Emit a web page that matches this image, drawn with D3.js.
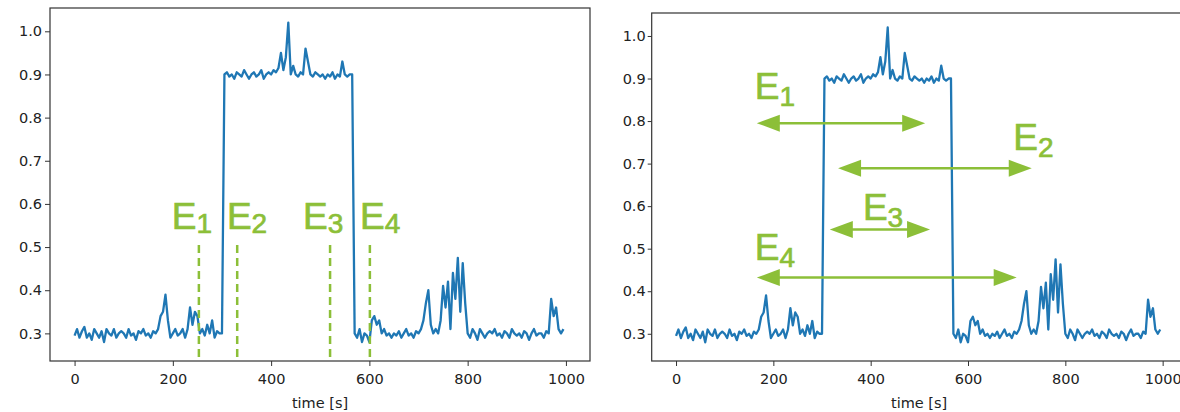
<!DOCTYPE html>
<html>
<head>
<meta charset="utf-8">
<script src="https://d3js.org/d3.v7.min.js"></script>
<style>
  body { margin: 0; background: #fff; }
  .tick text { font-family: "DejaVu Sans", sans-serif; font-size: 14.5px; fill: #222; }
  .axis-title { font-family: "DejaVu Sans", sans-serif; font-size: 14.5px; fill: #222; }
  .elabel { font-family: "Liberation Sans", Arial, sans-serif; fill: #8cbf38; stroke: #8cbf38; stroke-width: 0.7px; }
</style>
</head>
<body>
<div class="chart"></div>
<script>
// Step 1: data

// signal sampled every 5 s, t = 0 .. 995
var timeStep = 5;
var signal = [
  0.295, 0.31, 0.29, 0.305, 0.315, 0.29, 0.30, 0.285, 0.31, 0.30,
  0.29, 0.305, 0.28, 0.31, 0.30, 0.295, 0.31, 0.29, 0.30, 0.305,
  0.30, 0.29, 0.31, 0.295, 0.30, 0.285, 0.305, 0.30, 0.31, 0.295,
  0.30, 0.29, 0.305, 0.30, 0.31, 0.34, 0.35, 0.39, 0.33, 0.29,
  0.30, 0.31, 0.295, 0.30, 0.31, 0.29, 0.31, 0.36, 0.32, 0.35,
  0.34, 0.30, 0.31, 0.295, 0.32, 0.30, 0.33, 0.29, 0.305, 0.30,
  0.30, 0.90, 0.905, 0.895, 0.90, 0.89, 0.905, 0.90, 0.895, 0.91,
  0.90, 0.89, 0.90, 0.905, 0.895, 0.90, 0.91, 0.89, 0.90, 0.905,
  0.90, 0.91, 0.905, 0.915, 0.95, 0.91, 0.94, 1.02, 0.90, 0.92,
  0.90, 0.895, 0.905, 0.90, 0.96, 0.93, 0.90, 0.895, 0.905, 0.90,
  0.895, 0.90, 0.89, 0.90, 0.895, 0.905, 0.89, 0.90, 0.895, 0.93,
  0.90, 0.895, 0.90, 0.90, 0.30, 0.29, 0.31, 0.28, 0.30, 0.295,
  0.28, 0.33, 0.34, 0.32, 0.33, 0.30, 0.31, 0.295, 0.30, 0.29,
  0.30, 0.295, 0.305, 0.29, 0.30, 0.31, 0.295, 0.30, 0.29, 0.305,
  0.30, 0.31, 0.33, 0.37, 0.40, 0.32, 0.30, 0.31, 0.30, 0.33,
  0.41, 0.36, 0.42, 0.31, 0.44, 0.38, 0.475, 0.35, 0.463, 0.37,
  0.30, 0.29, 0.31, 0.30, 0.285, 0.31, 0.30, 0.29, 0.30, 0.305,
  0.30, 0.31, 0.295, 0.30, 0.29, 0.305, 0.30, 0.29, 0.31, 0.30,
  0.295, 0.30, 0.29, 0.305, 0.30, 0.285, 0.30, 0.31, 0.295, 0.30,
  0.30, 0.29, 0.305, 0.30, 0.38, 0.34, 0.36, 0.31, 0.30, 0.31
];

var xTicks = [0, 200, 400, 600, 800, 1000];
var yTicks = [0.3, 0.4, 0.5, 0.6, 0.7, 0.8, 0.9, 1.0];
var xLimits = [-50, 1049];
var yLimits = [0.236, 1.054];

var eventNames = ["1", "2", "3", "4"];

// left panel: dashed markers
var dashTimes = [253, 331, 520, 601];
var dashTop = 0.505;
var dashLabelTime = [198, 310, 465, 581];
var dashLabelLevel = 0.542;

// right panel: double arrows
var arrowStart = [166, 333, 316, 166];
var arrowEnd = [512, 731, 522, 700];
var arrowLevel = [0.795, 0.689, 0.545, 0.432];
var arrowLabelTime = [162, 693, 384, 162];
var arrowLabelLevel = [0.853, 0.732, 0.568, 0.474];

var green = "#8cbf38";
var blue = "#1f77b4";

var points = signal.map(function(v, i) { return {t: i * timeStep, v: v}; });

// Step 2: svg
var svg = d3.select(".chart").append("svg")
  .attr("width", 1180)
  .attr("height", 412);

// Step 3: one panel = frame, axes, curve
function drawPanel(box) {
  var x = d3.scaleLinear().domain(xLimits).range([box.left, box.right]);
  var y = d3.scaleLinear().domain(yLimits).range([box.bottom, box.top]);

  var g = svg.append("g");

  g.append("g")
    .attr("transform", `translate(0, ${box.bottom})`)
    .call(d3.axisBottom(x).tickValues(xTicks).tickFormat(d3.format("d"))
      .tickSize(5).tickPadding(8))
    .call(a => a.select(".domain").remove())
    .call(a => a.selectAll("line").attr("stroke", "#333"));

  g.append("g")
    .attr("transform", `translate(${box.left}, 0)`)
    .call(d3.axisLeft(y).tickValues(yTicks).tickFormat(d3.format(".1f"))
      .tickSize(box.tick).tickPadding(box.pad))
    .call(a => a.select(".domain").remove())
    .call(a => a.selectAll("line").attr("stroke", "#333"));

  g.append("text")
    .attr("class", "axis-title")
    .attr("x", (box.left + box.right) / 2)
    .attr("y", 408)
    .attr("text-anchor", "middle")
    .text("time [s]");

  var line = d3.line().x(d => x(d.t)).y(d => y(d.v));

  g.append("path")
    .datum(points)
    .attr("d", line)
    .attr("fill", "none")
    .attr("stroke", blue)
    .attr("stroke-width", 2.3)
    .attr("stroke-linejoin", "round");

  g.append("rect")
    .attr("x", box.left)
    .attr("y", box.top)
    .attr("width", box.right - box.left)
    .attr("height", box.bottom - box.top)
    .attr("fill", "none")
    .attr("stroke", "#333")
    .attr("stroke-width", 1.2);

  return {g: g, x: x, y: y};
}

function addLabel(g, px, py, name, subDy) {
  var t = g.append("text")
    .attr("class", "elabel")
    .attr("x", px)
    .attr("y", py)
    .attr("font-size", 37);
  t.append("tspan").text("E");
  t.append("tspan").attr("font-size", 28).attr("dy", subDy).text(name);
}

// Step 4: left panel with dashed event lines
var left = drawPanel({left: 50, right: 590, top: 8, bottom: 361, tick: 5, pad: 3});

dashTimes.forEach(function(t, i) {
  left.g.append("line")
    .attr("x1", left.x(t)).attr("x2", left.x(t))
    .attr("y1", left.y(dashTop)).attr("y2", left.y(yLimits[0]))
    .attr("stroke", green)
    .attr("stroke-width", 2.5)
    .attr("stroke-dasharray", "8,5");
  addLabel(left.g, left.x(dashLabelTime[i]), left.y(dashLabelLevel), eventNames[i], 4);
});

// Step 5: right panel with double arrows
var right = drawPanel({left: 651.7, right: 1186.5, top: 13, bottom: 361, tick: 4, pad: 2});

var headLen = 23, headHalf = 8.5;
arrowLevel.forEach(function(v, i) {
  var x1 = right.x(arrowStart[i]), x2 = right.x(arrowEnd[i]), yy = right.y(v);
  right.g.append("line")
    .attr("x1", x1 + headLen - 2).attr("x2", x2 - headLen + 2)
    .attr("y1", yy).attr("y2", yy)
    .attr("stroke", green)
    .attr("stroke-width", 2.5);
  right.g.append("path")
    .attr("d", `M${x1},${yy}L${x1 + headLen},${yy - headHalf}L${x1 + headLen},${yy + headHalf}Z`)
    .attr("fill", green);
  right.g.append("path")
    .attr("d", `M${x2},${yy}L${x2 - headLen},${yy - headHalf}L${x2 - headLen},${yy + headHalf}Z`)
    .attr("fill", green);
  addLabel(right.g, right.x(arrowLabelTime[i]), right.y(arrowLabelLevel[i]), eventNames[i], 7);
});
</script>
</body>
</html>
